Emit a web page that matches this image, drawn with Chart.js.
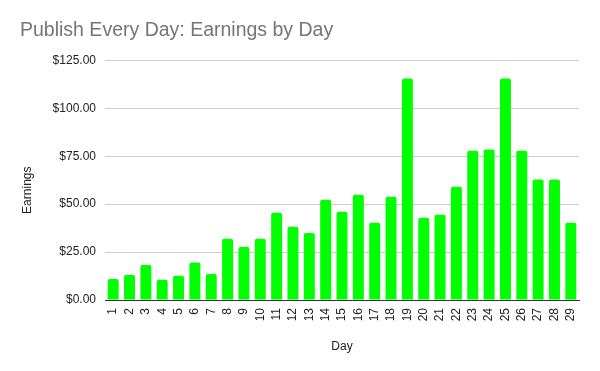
<!DOCTYPE html>
<html><head><meta charset="utf-8">
<script src="https://cdn.jsdelivr.net/npm/chart.js@4"></script>
<style>html,body{margin:0;padding:0;background:#fff}canvas{display:block}</style>
</head><body>
<canvas id="c" width="600" height="371"></canvas>
<script>
const days = ['1','2','3','4','5','6','7','8','9','10','11','12','13','14','15','16','17','18','19','20','21','22','23','24','25','26','27','28','29'];
const earnings = [11.0, 13.1, 18.3, 10.5, 12.6, 19.5, 13.6, 31.9, 27.7, 31.9, 45.5, 38.2, 35.0, 52.3, 46.0, 54.9, 40.3, 53.9, 115.6, 42.9, 44.5, 59.1, 77.9, 78.5, 115.6, 77.9, 62.8, 62.8, 40.3];
const yMin = 0, yMax = 125, yStep = 25;
const chartTitle = 'Publish Every Day: Earnings by Day';
const xTitle = 'Day';
const yTitle = 'Earnings';

const FONT = "'Liberation Sans', Arial, sans-serif";
new Chart(document.getElementById('c'), {
  type: 'bar',
  data: {
    labels: days,
    datasets: [{
      label: yTitle,
      data: earnings,
      backgroundColor: '#00ff00',
      borderWidth: 0,
      borderRadius: 2,
      categoryPercentage: 1,
      barPercentage: 0.67
    }]
  },
  options: {
    responsive: false,
    animation: false,
    layout: { padding: { left: 20, right: 21, top: 0, bottom: 0 } },
    plugins: {
      legend: { display: false },
      tooltip: { enabled: false },
      title: {
        display: true,
        text: chartTitle,
        align: 'start',
        color: '#757575',
        font: { family: FONT, size: 19.5, weight: 'normal' },
        padding: { top: 19, bottom: 18 }
      }
    },
    scales: {
      x: {
        grid: { display: false, drawTicks: false },
        border: { display: true, color: '#333333', width: 1 },
        ticks: {
          color: '#222222',
          font: { family: FONT, size: 12 },
          minRotation: 90, maxRotation: 90,
          autoSkip: false,
          padding: 8
        },
        title: {
          display: true, text: xTitle, color: '#222222',
          font: { family: FONT, size: 12 },
          padding: { top: 0, bottom: 17 }
        },
        afterFit: s => { s.height = 71; }
      },
      y: {
        min: yMin, max: yMax,
        grid: { color: '#cccccc', drawTicks: false },
        border: { display: false },
        ticks: {
          stepSize: yStep,
          color: '#222222',
          font: { family: FONT, size: 12 },
          padding: 9,
          callback: v => '$' + Number(v).toFixed(2)
        },
        title: {
          display: true, text: yTitle + '      ', color: '#222222',
          font: { family: FONT, size: 12 },
          padding: { top: 0, bottom: 0 }
        },
        afterFit: s => { s.width = 85; }
      }
    }
  }
});
</script>
</body></html>
